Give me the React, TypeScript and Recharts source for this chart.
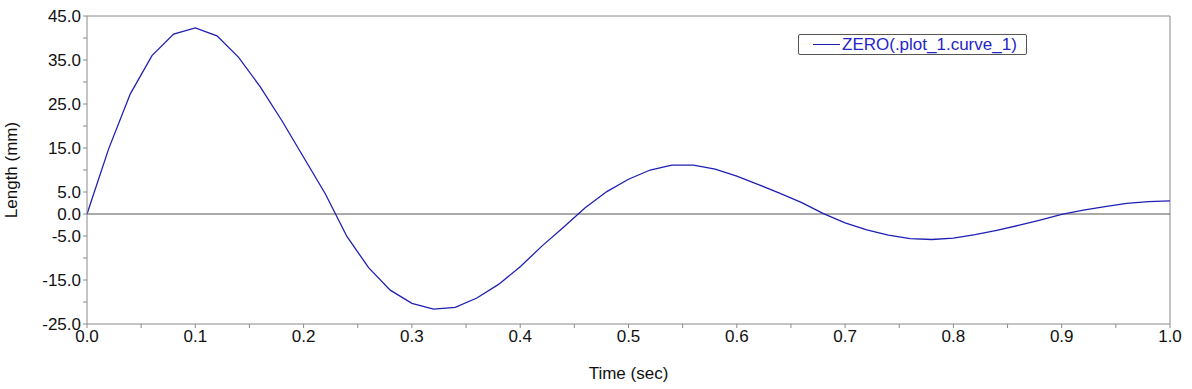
import React from 'react'
import { LineChart, Line, XAxis, YAxis, ReferenceLine, Label } from 'recharts'

const times = [
  0, 0.02, 0.04, 0.06, 0.08, 0.1, 0.12, 0.14, 0.16, 0.18,
  0.2, 0.22, 0.24, 0.26, 0.28, 0.3, 0.32, 0.34, 0.36, 0.38,
  0.4, 0.42, 0.44, 0.46, 0.48, 0.5, 0.52, 0.54, 0.56, 0.58,
  0.6, 0.62, 0.64, 0.66, 0.68, 0.7, 0.72, 0.74, 0.76, 0.78,
  0.8, 0.82, 0.84, 0.86, 0.88, 0.9, 0.92, 0.94, 0.96, 0.98, 1.0,
]
const lengths = [
  0, 14.8, 27.3, 36.0, 40.9, 42.3, 40.5, 35.6, 28.9, 21.2,
  12.9, 4.6, -5.1, -12.2, -17.3, -20.3, -21.6, -21.2, -19.1, -16.0,
  -12.0, -7.3, -3.0, 1.4, 5.1, 7.9, 10.0, 11.1, 11.1, 10.2,
  8.6, 6.7, 4.7, 2.6, 0.1, -2.0, -3.6, -4.8, -5.6, -5.8,
  -5.5, -4.7, -3.7, -2.6, -1.4, -0.1, 0.9, 1.7, 2.4, 2.8, 3.0,
]
const xTicks = [0, 0.05, 0.1, 0.15, 0.2, 0.25, 0.3, 0.35, 0.4, 0.45, 0.5, 0.55, 0.6, 0.65, 0.7, 0.75, 0.8, 0.85, 0.9, 0.95, 1.0]
const yTicks = [-25, -20, -15, -10, -5, 0, 5, 10, 15, 20, 25, 30, 35, 40, 45]
const yLabelled = [45, 35, 25, 15, 5, 0, -5, -15, -25]
const seriesName = 'ZERO(.plot_1.curve_1)'

const data = times.map((t, i) => ({ t, len: lengths[i] }))

const FONT = '"Liberation Sans", Arial, sans-serif'
const FS = 17
const BLUE = '#1f1fb4'
const FRAME = '#8a8a8a'

const fmtX = (v: number) => (Math.round(v * 100) % 10 === 0 ? v.toFixed(1) : '')
const fmtY = (v: number) => (yLabelled.includes(v) ? v.toFixed(1) : '')

// legend drawn as an overlay so it doesn't eat plot space
const LegendBox = () => (
  <div
    style={{
      position: 'absolute',
      left: 798,
      top: 34,
      display: 'flex',
      alignItems: 'center',
      height: 19,
      border: '1px solid #555',
      borderRadius: 2,
      padding: '0 9px 0 14px',
      fontFamily: FONT,
      fontSize: FS,
      color: '#2525c8',
      background: '#fff',
      whiteSpace: 'nowrap',
    }}
  >
    <span style={{ display: 'inline-block', width: 27, borderTop: `1.5px solid ${BLUE}`, marginRight: 2 }} />
    {seriesName}
  </div>
)

const yLabel = (props: any) => {
  const vb = props.viewBox
  const cx = vb.x + 11
  const cy = vb.y + vb.height / 2
  return (
    <text x={cx} y={cy} transform={`rotate(-90 ${cx} ${cy})`} textAnchor="middle" dominantBaseline="central"
      fontFamily={FONT} fontSize={FS} fill="#111">
      Length (mm)
    </text>
  )
}

const xLabel = (props: any) => {
  const vb = props.viewBox
  return (
    <text x={vb.x + vb.width / 2} y={vb.y + 49} textAnchor="middle" dominantBaseline="central"
      fontFamily={FONT} fontSize={FS} fill="#111">
      Time (sec)
    </text>
  )
}

export default function App() {
  return (
    <div style={{ position: 'absolute', left: 0, top: 0, width: 1192, height: 389, background: '#fff' }}>
      <LineChart width={1192} height={389} data={data} margin={{ top: 16, right: 22, left: 0, bottom: 0 }}>
        <XAxis
          dataKey="t"
          type="number"
          domain={[0, 1]}
          ticks={xTicks}
          tickFormatter={fmtX}
          interval={0}
          height={65}
          tickSize={4}
          tickMargin={2}
          stroke={FRAME}
          tick={{ fill: '#111', fontSize: FS, fontFamily: FONT }}
        >
          <Label content={xLabel} />
        </XAxis>
        <YAxis
          type="number"
          domain={[-25, 45]}
          ticks={yTicks}
          tickFormatter={fmtY}
          interval={0}
          width={87}
          tickSize={4}
          tickMargin={2}
          stroke={FRAME}
          tick={{ fill: '#111', fontSize: FS, fontFamily: FONT }}
        >
          <Label content={yLabel} />
        </YAxis>
        <ReferenceLine y={45} stroke={FRAME} />
        <ReferenceLine x={1} stroke={FRAME} />
        <ReferenceLine y={0} stroke="#555" />
        <Line
          dataKey="len"
          name={seriesName}
          type="linear"
          stroke={BLUE}
          strokeWidth={1.3}
          dot={false}
          isAnimationActive={false}
        />
      </LineChart>
      <LegendBox />
    </div>
  )
}
